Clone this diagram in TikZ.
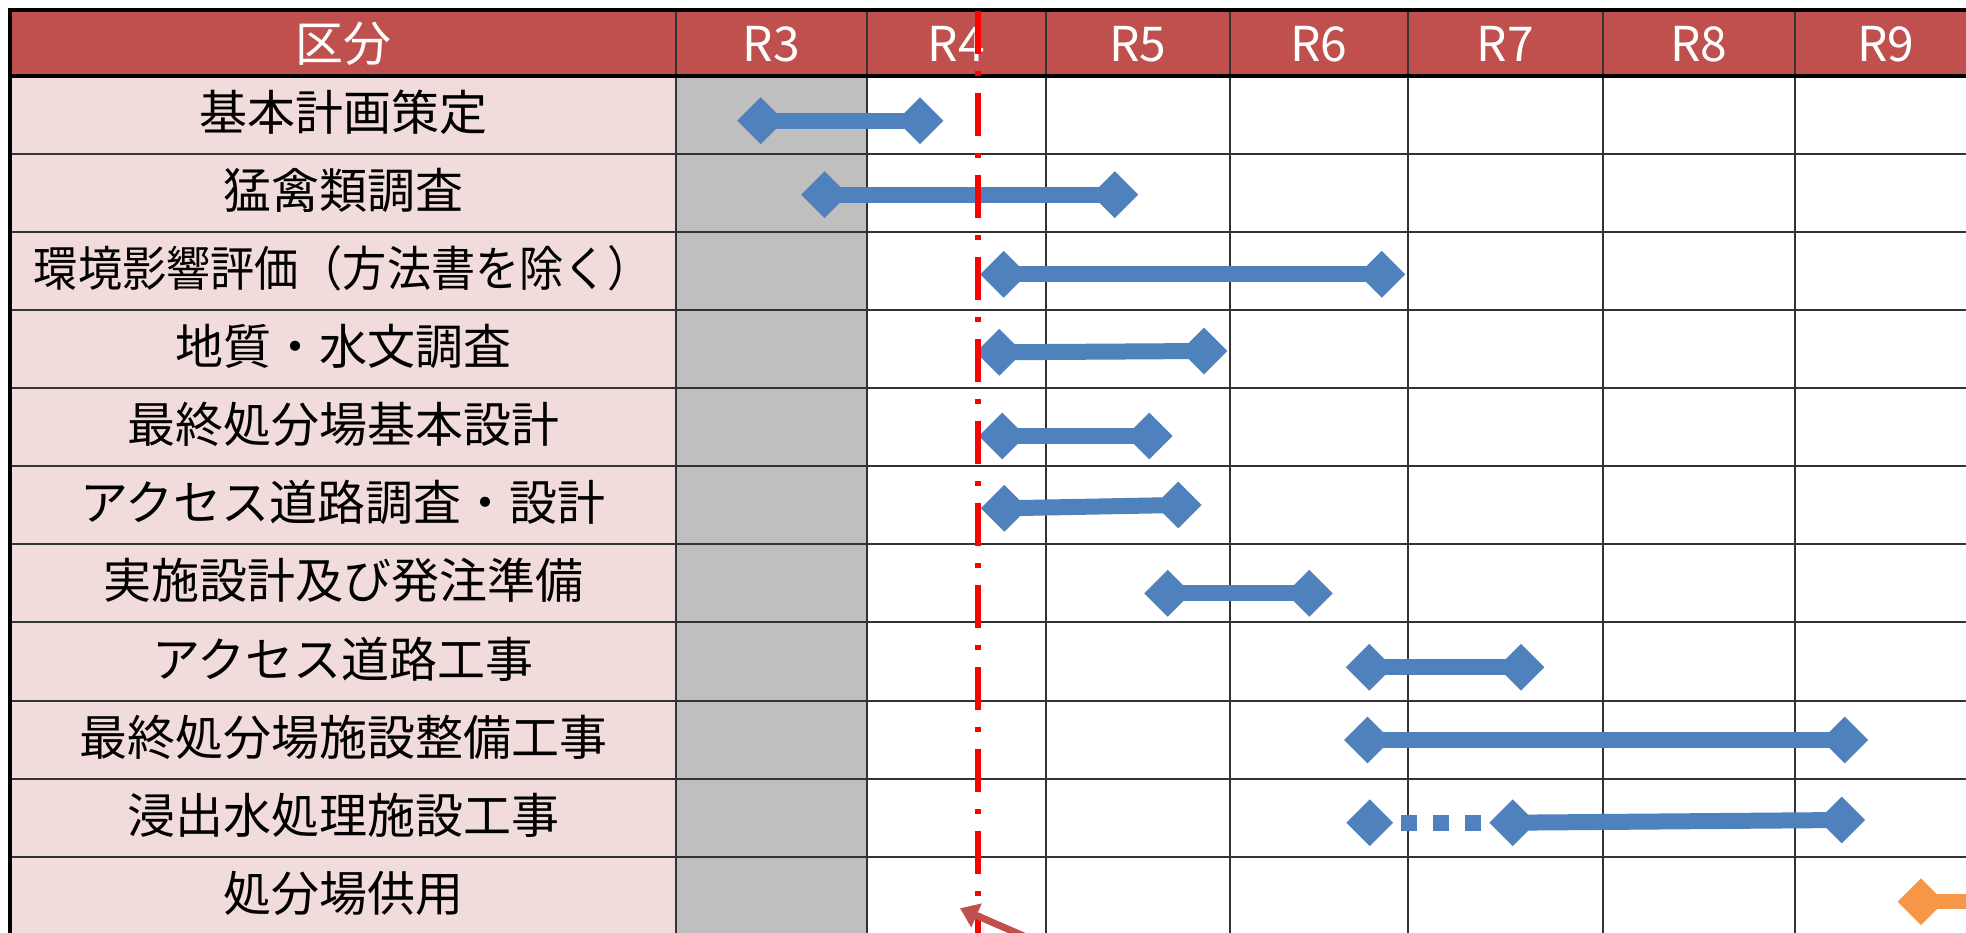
\documentclass[tikz,border=0pt]{standalone}
\usepackage{fontspec}
\setmainfont{Noto Sans CJK JP}
\usetikzlibrary{shapes.geometric,arrows.meta}
\definecolor{hdr}{HTML}{C0504D}
\definecolor{lbl}{HTML}{F2DCDB}
\definecolor{past}{HTML}{BFBFBF}
\definecolor{barblue}{HTML}{4F81BD}
\definecolor{barorange}{HTML}{F79646}
\definecolor{nowred}{HTML}{FF0000}
\definecolor{gridc}{HTML}{333333}
\tikzset{
  hdrtext/.style={text=white,font=\fontsize{48}{52}\selectfont,inner sep=0pt,anchor=base},
  lbltext/.style={text=black,font=\fontsize{48}{52}\selectfont,inner sep=0pt,anchor=base},
  ms/.style={diamond,fill=barblue,draw=none,inner sep=0pt,minimum width=47pt,minimum height=47pt},
  msor/.style={ms,fill=barorange},
  barline/.style={draw=barblue,line width=16pt},
  gridline/.style={draw=gridc,line width=2pt},
  frameline/.style={draw=black,line width=3.5pt},
}
\begin{document}
\begin{tikzpicture}[x=1pt,y=-1pt]
\useasboundingbox (0,0) rectangle (1966,933);
\clip (0,0) rectangle (1966,933);
% fills
\fill[white] (0,0) rectangle (1966,933);
\fill[hdr] (10,10) rectangle (1966,76);
\fill[lbl] (10,76) rectangle (676,933);
\fill[past] (676,76) rectangle (867,933);
% grid
\foreach \k in {1,...,10} \draw[gridline] (10,{76+\k*78.07}) -- (1966,{76+\k*78.07});
\foreach \x in {676,867,1046,1230,1408,1603,1795} \draw[gridline] (\x,10) -- (\x,933);
\draw[frameline] (10,940) -- (10,10) -- (1966,10);
\draw[frameline] (10,76) -- (1966,76);
% header
\node[hdrtext] (h0) at (343,62) {区分};
\node[hdrtext] (h3) at (771.5,62) {R3};
\node[hdrtext] (h4) at (956.5,62) {R4};
\node[hdrtext] (h5) at (1138,62) {R5};
\node[hdrtext] (h6) at (1319,62) {R6};
\node[hdrtext] (h7) at (1505.5,62) {R7};
\node[hdrtext] (h8) at (1699,62) {R8};
\node[hdrtext] (h9) at (1886,62) {R9};
% labels
\foreach \t [count=\i] in {基本計画策定,猛禽類調査,{\scalebox{0.92}[1]{環境影響評価（方法書を除く）}},地質・水文調査,最終処分場基本設計,アクセス道路調査・設計,実施設計及び発注準備,アクセス道路工事,最終処分場施設整備工事,浸出水処理施設工事,処分場供用}
  \node[lbltext] (lab\i) at (343,{76+(\i-0.5)*78.07+15.5}) {\t};
% bars
\node[ms] (a1) at (760.7,120.7) {}; \node[ms] (b1) at (920,120.7) {};
\draw[barline] (a1.center) -- (b1.center);
\node[ms] (a2) at (824.6,194.7) {}; \node[ms] (b2) at (1114.8,194.7) {};
\draw[barline] (a2.center) -- (b2.center);
\node[ms] (a3) at (1003.7,274.3) {}; \node[ms] (b3) at (1381.8,274.3) {};
\draw[barline] (a3.center) -- (b3.center);
\node[ms] (a4) at (999.3,352.3) {}; \node[ms] (b4) at (1204,351) {};
\draw[barline] (a4.center) -- (b4.center);
\node[ms] (a5) at (1002.3,436) {}; \node[ms] (b5) at (1149.3,436) {};
\draw[barline] (a5.center) -- (b5.center);
\node[ms] (a6) at (1004.3,508.3) {}; \node[ms] (b6) at (1178.3,505) {};
\draw[barline] (a6.center) -- (b6.center);
\node[ms] (a7) at (1167.7,593.3) {}; \node[ms] (b7) at (1309.3,593.3) {};
\draw[barline] (a7.center) -- (b7.center);
\node[ms] (a8) at (1369.3,667.3) {}; \node[ms] (b8) at (1521,667.3) {};
\draw[barline] (a8.center) -- (b8.center);
\node[ms] (a9) at (1367.5,740) {}; \node[ms] (b9) at (1844.7,740) {};
\draw[barline] (a9.center) -- (b9.center);
\node[ms] (a10) at (1369.7,822.7) {}; \node[ms] (m10) at (1512.7,822.7) {}; \node[ms] (b10) at (1841.7,820) {};
\draw[draw=barblue,line width=16pt,dash pattern=on 16pt off 16pt,dash phase=24pt] (a10.east) -- (m10.west);
\draw[barline] (m10.center) -- (b10.center);
\node[msor] (a11) at (1921,901.7) {};
\coordinate (e11) at (1990,901.7);
\draw[draw=barorange,line width=15pt] (a11.center) -- (e11);
% current-year line
\coordinate (nowtop) at (977.5,11);
\coordinate (nowbot) at (977.5,945);
\draw[nowred,line width=6pt,dash pattern=on 43pt off 17pt on 5pt off 17pt] (nowtop) -- (nowbot);
% pointer arrow
\coordinate (arrtail) at (1160,995.3);
\coordinate (arrtip) at (960,908.3);
\draw[hdr,line width=7pt,-{Triangle[length=18pt,width=25pt]}] (arrtail) -- (arrtip);
\end{tikzpicture}
\end{document}
